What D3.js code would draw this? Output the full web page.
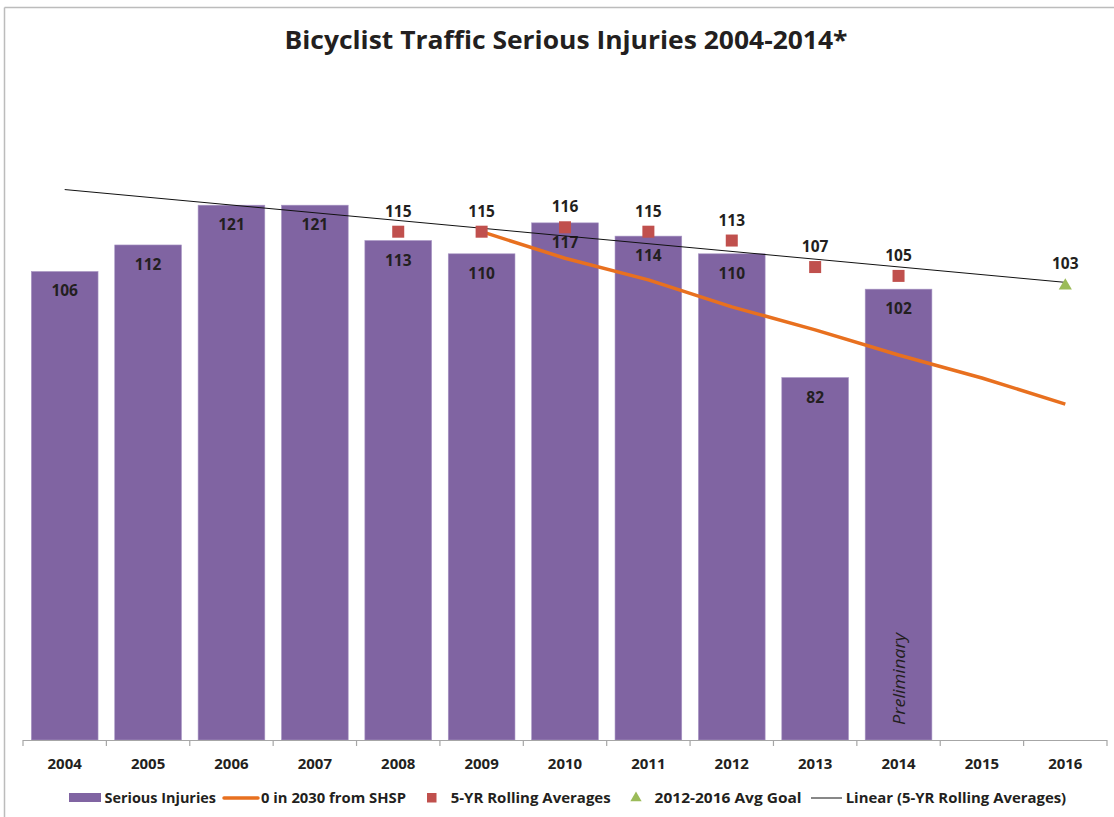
<!DOCTYPE html>
<html>
<head>
<meta charset="utf-8">
<script src="https://cdn.jsdelivr.net/npm/d3@7"></script>
<style>
  html, body { margin: 0; padding: 0; background: #fff; }
  svg { display: block; }
  text { font-family: "Open Sans", "Noto Sans", sans-serif; fill: #231f20; }
</style>
</head>
<body>
<svg id="chart" width="1114" height="817"></svg>
<script>
// ---- data ----
const years = ["2004","2005","2006","2007","2008","2009","2010","2011","2012","2013","2014","2015","2016"];
const injuryYears = ["2004","2005","2006","2007","2008","2009","2010","2011","2012","2013","2014"];
const injuries = [106, 112, 121, 121, 113, 110, 117, 114, 110, 82, 102];
const rollingYears = ["2008","2009","2010","2011","2012","2013","2014"];
const rollingAvg = [115, 115, 116, 115, 113, 107, 105];
const shspYears = ["2009","2010","2011","2012","2013","2014","2015","2016"];
const shspValues = [115, 109, 104.1, 98, 92.8, 87.1, 81.9, 76];
const goalYears = ["2016"];
const goalValues = [103];
const trendYears = ["2004","2016"];
const title = "Bicyclist Traffic Serious Injuries 2004-2014*";
const legendLabels = ["Serious Injuries", "0 in 2030 from SHSP", "5-YR Rolling Averages", "2012-2016 Avg Goal", "Linear (5-YR Rolling Averages)"];
const preliminaryYear = "2014";
const preliminaryLabel = "Preliminary";

// ---- colours ----
const cBar = "#8064a2", cOrange = "#e8701f", cRed = "#c0504d", cGreen = "#9bbb59";

const svg = d3.select("#chart");

// border (top & left)
svg.append("line").attr("x1", 4.5).attr("x2", 1114).attr("y1", 7.5).attr("y2", 7.5)
  .attr("stroke", "#bcbcbc").attr("stroke-width", 1.5);
svg.append("line").attr("x1", 4.5).attr("x2", 4.5).attr("y1", 7.5).attr("y2", 817)
  .attr("stroke", "#bcbcbc").attr("stroke-width", 1.5);

// scales
const x = d3.scaleBand().domain(years).range([23, 1107]).padding(0);
const y = d3.scaleLinear().domain([0, 140]).range([740, 740 - 140 * 4.42]);
const cx = d => x(d) + x.bandwidth() / 2;
const barW = x.bandwidth() * 0.8;

function fit(sel, w) {
  sel.attr("textLength", w).attr("lengthAdjust", "spacingAndGlyphs");
}

// title
svg.append("text").attr("x", 566).attr("y", 48.5).attr("text-anchor", "middle")
  .attr("font-size", 25.5).attr("font-weight", 700).text(title)
  .call(fit, 563);

// bars
svg.selectAll("rect.bar").data(injuries).enter().append("rect")
  .attr("class", "bar")
  .attr("x", (d, i) => cx(injuryYears[i]) - barW / 2)
  .attr("width", barW)
  .attr("y", d => y(d))
  .attr("height", d => y(0) - y(d))
  .attr("fill", cBar)
  .attr("stroke", "#a896c4").attr("stroke-width", 0.6);

// bar labels
svg.selectAll("text.blab").data(injuries).enter().append("text")
  .attr("class", "blab")
  .attr("x", (d, i) => cx(injuryYears[i]))
  .attr("y", d => y(d) + 25)
  .attr("text-anchor", "middle").attr("font-size", 15.5).attr("font-weight", 700)
  .text(d => d);

// Preliminary
svg.append("text")
  .attr("transform", `translate(${cx(preliminaryYear) + 6},679) rotate(-90)`)
  .attr("text-anchor", "middle").attr("font-size", 16.5).attr("font-style", "italic")
  .text(preliminaryLabel).call(fit, 92);

// axis
const axisG = svg.append("g");
axisG.append("line").attr("x1", 23).attr("x2", 1107).attr("y1", 740.5).attr("y2", 740.5)
  .attr("stroke", "#a6a6a6").attr("stroke-width", 1.2);
const tickPos = years.map(d => x(d)).concat([x(years[years.length - 1]) + x.bandwidth()]);
axisG.selectAll("line.tick").data(tickPos).enter().append("line")
  .attr("x1", d => d).attr("x2", d => d).attr("y1", 740).attr("y2", 746)
  .attr("stroke", "#a6a6a6").attr("stroke-width", 1.2);
axisG.selectAll("text.xl").data(years).enter().append("text")
  .attr("x", d => cx(d)).attr("y", 768.5).attr("text-anchor", "middle")
  .attr("font-size", 15).attr("font-weight", 700).text(d => d);

// SHSP line
const line = d3.line().x((d, i) => cx(shspYears[i])).y(d => y(d));
svg.append("path").datum(shspValues).attr("d", line)
  .attr("fill", "none").attr("stroke", cOrange).attr("stroke-width", 3.5)
  .attr("stroke-linejoin", "round");

// trend line (linear regression of rolling averages)
const xi = rollingYears.map(d => +d);
const mx = d3.mean(xi), my = d3.mean(rollingAvg);
const slope = d3.sum(xi.map((v, i) => (v - mx) * (rollingAvg[i] - my))) / d3.sum(xi.map(v => (v - mx) ** 2));
const trendVals = trendYears.map(d => my + slope * (+d - mx));
svg.append("path").datum(trendVals)
  .attr("d", d3.line().x((d, i) => cx(trendYears[i])).y(d => y(d)))
  .attr("fill", "none").attr("stroke", "#111").attr("stroke-width", 1);

// rolling avg squares
svg.selectAll("rect.sq").data(rollingAvg).enter().append("rect")
  .attr("x", (d, i) => cx(rollingYears[i]) - 6).attr("y", d => y(d) - 6)
  .attr("width", 12).attr("height", 12).attr("fill", cRed);
svg.selectAll("text.rl").data(rollingAvg).enter().append("text")
  .attr("x", (d, i) => cx(rollingYears[i])).attr("y", d => y(d) - 15)
  .attr("text-anchor", "middle").attr("font-size", 15.5).attr("font-weight", 700)
  .text(d => d);

// goal triangle
const tri = d3.symbol().type(d3.symbolTriangle).size(75);
svg.selectAll("path.goal").data(goalValues).enter().append("path")
  .attr("transform", (d, i) => `translate(${cx(goalYears[i])},${y(d) + 1})`)
  .attr("d", tri).attr("fill", cGreen);
svg.selectAll("text.gl").data(goalValues).enter().append("text")
  .attr("x", (d, i) => cx(goalYears[i])).attr("y", d => y(d) - 16)
  .attr("text-anchor", "middle").attr("font-size", 15.5).attr("font-weight", 700)
  .text(d => d);

// legend
const ly = 798;
const leg = svg.append("g");
leg.append("rect").attr("x", 69).attr("y", ly - 5).attr("width", 32).attr("height", 9).attr("fill", cBar);
leg.append("line").attr("x1", 224).attr("x2", 258).attr("y1", ly).attr("y2", ly)
  .attr("stroke", cOrange).attr("stroke-width", 3.5).attr("stroke-linecap", "round");
leg.append("rect").attr("x", 427).attr("y", ly - 5).attr("width", 9.5).attr("height", 9.5).attr("fill", cRed);
leg.append("path").attr("transform", `translate(636,${ly})`).attr("d", d3.symbol().type(d3.symbolTriangle).size(55)).attr("fill", cGreen);
leg.append("line").attr("x1", 811).attr("x2", 842).attr("y1", ly).attr("y2", ly)
  .attr("stroke", "#111").attr("stroke-width", 1);
const legText = [
  {x: 104.5, w: 111.5},
  {x: 261, w: 145},
  {x: 450.7, w: 160},
  {x: 654.6, w: 147},
  {x: 845.7, w: 220.5}
];
leg.selectAll("text").data(legendLabels).enter().append("text")
  .attr("x", (d, i) => legText[i].x).attr("y", ly + 5)
  .attr("font-size", 13.5).attr("font-weight", 700)
  .attr("textLength", (d, i) => legText[i].w).attr("lengthAdjust", "spacingAndGlyphs")
  .text(d => d);
</script>
</body>
</html>
